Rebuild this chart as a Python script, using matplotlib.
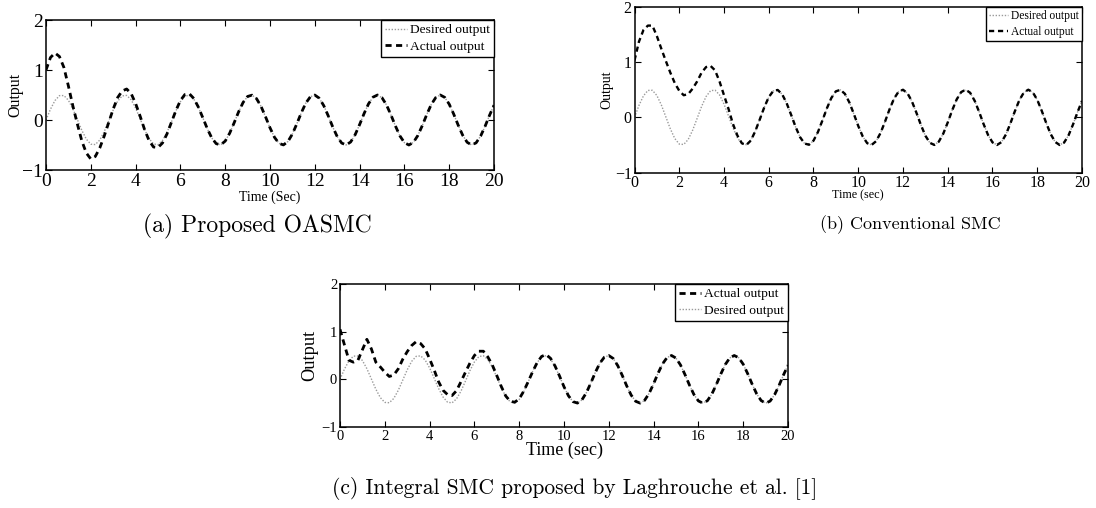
import matplotlib
matplotlib.use('Agg')
import matplotlib.pyplot as plt
import numpy as np

# sample times (s), one reading every 0.2 s
time = np.linspace(0, 20, 101)

# reference signal, same in all three panels
desired = [0.000, 0.216, 0.389, 0.487, 0.489, 0.395, 0.224, 0.009, -0.207, -0.383,
           -0.484, -0.491, -0.401, -0.232, -0.018, 0.199, 0.377, 0.482, 0.492, 0.406,
           0.240, 0.028, -0.190, -0.371, -0.479, -0.494, -0.411, -0.248, -0.037, 0.182,
           0.365, 0.477, 0.495, 0.417, 0.256, 0.046, -0.173, -0.359, -0.474, -0.496,
           -0.422, -0.264, -0.055, 0.165, 0.352, 0.471, 0.497, 0.427, 0.272, 0.065,
           -0.156, -0.346, -0.468, -0.498, -0.431, -0.280, -0.074, 0.147, 0.339, 0.464,
           0.499, 0.436, 0.287, 0.083, -0.138, -0.332, -0.461, -0.499, -0.440, -0.295,
           -0.092, 0.129, 0.325, 0.457, 0.500, 0.445, 0.302, 0.101, -0.120, -0.318,
           -0.453, -0.500, -0.449, -0.310, -0.110, 0.111, 0.311, 0.449, 0.500, 0.453,
           0.317, 0.119, -0.102, -0.303, -0.445, -0.500, -0.457, -0.324, -0.128, 0.093,
           0.296]

# actual outputs: transient part, afterwards they sit on the reference
actual_oasmc = [1.00, 1.25, 1.34, 1.27, 1.05, 0.68, 0.28, -0.08, -0.42, -0.66,
                -0.78, -0.73, -0.56, -0.32, -0.05, 0.22, 0.45, 0.58, 0.62, 0.53,
                0.33, 0.08, -0.19, -0.41, -0.54, -0.55, -0.46, -0.28, -0.045, 0.19,
                0.39, 0.51, 0.525, 0.43, 0.26] + desired[35:]

actual_smc = [1.03, 1.37, 1.58, 1.66, 1.66, 1.47, 1.24, 1.02, 0.81, 0.62,
              0.48, 0.40, 0.42, 0.52, 0.65, 0.81, 0.91, 0.93, 0.85, 0.65,
              0.40, 0.155, -0.12, -0.33, -0.47, -0.50, -0.42] + desired[27:]

actual_ismc = [1.05, 0.72, 0.40, 0.36, 0.40, 0.62, 0.84, 0.64, 0.36, 0.26,
               0.15, 0.06, 0.09, 0.22, 0.42, 0.58, 0.71, 0.79, 0.75, 0.64,
               0.43, 0.20, -0.05, -0.23, -0.32, -0.34, -0.24, -0.05, 0.15, 0.34,
               0.50, 0.59, 0.59, 0.47, 0.30, 0.08, -0.15, -0.35, -0.46, -0.48,
               -0.41, -0.25, -0.05, 0.16, 0.35, 0.48, 0.52, 0.44, 0.28, 0.07] + desired[50:]

x_ticks = list(range(0, 21, 2))
y_ticks = [-1, 0, 1, 2]
y_tick_labels = ['\u22121', '0', '1', '2']

SERIF = 'Liberation Serif'
CAPTION_FONT = 'cmr10'
W, H = 1096.0, 508.0


def px_rect(left, right, top, bottom):
    return [left / W, 1 - bottom / H, (right - left) / W, (bottom - top) / H]


def draw_panel(fig, rect, actual, xlabel, desired_first, tick_fs, ylab_fs, xlab_fs,
               leg_fs, xlab_y, ylab_x, lw_act):
    ax = fig.add_axes(rect)
    l_des, = ax.plot(time, desired, color='#9a9a9a', lw=1.0, ls=(0, (1, 1.2)),
                     label='Desired output')
    l_act, = ax.plot(time, actual, color='black', lw=lw_act, ls=(0, (2.2, 1.6)),
                     label='Actual output')
    ax.set_xlim(0, 20)
    ax.set_ylim(-1, 2)
    ax.set_xticks(x_ticks)
    ax.set_xticklabels([str(v) for v in x_ticks], fontfamily=SERIF, fontsize=tick_fs)
    ax.set_yticks(y_ticks)
    ax.set_yticklabels(y_tick_labels, fontfamily=SERIF, fontsize=tick_fs)
    ax.tick_params(direction='in', top=True, right=True, length=4, width=0.8, pad=2)
    for s in ax.spines.values():
        s.set_linewidth(1.1)
    ax.set_xlabel(xlabel, fontfamily=SERIF, fontsize=xlab_fs, va='top')
    ax.xaxis.set_label_coords(0.5, xlab_y)
    ax.set_ylabel('Output', fontfamily=SERIF, fontsize=ylab_fs)
    ax.yaxis.set_label_coords(ylab_x, 0.5)
    handles = [l_des, l_act] if desired_first else [l_act, l_des]
    leg = ax.legend(handles=handles, loc='upper right', borderaxespad=0,
                    fancybox=False, edgecolor='black', framealpha=1,
                    prop={'family': SERIF, 'size': leg_fs}, handlelength=1.6,
                    handletextpad=0.25, borderpad=0.3, labelspacing=0.3)
    leg.get_frame().set_linewidth(1.0)
    return ax


fig = plt.figure(figsize=(10.96, 5.08), dpi=100)

draw_panel(fig, px_rect(46, 494, 20, 170), actual_oasmc, 'Time (Sec)', True,
           14, 11.5, 10, 9.7, -0.135, -0.051, 2.0)
fig.text(257 / W, 1 - 226 / H, '(a) Proposed OASMC', family=CAPTION_FONT,
         fontsize=17, ha='center', va='center')

draw_panel(fig, px_rect(634.5, 1082, 6.8, 172.6), actual_smc, 'Time (sec)', True,
           11.5, 10, 8.7, 8.3, -0.103, -0.048, 1.7)
fig.text(910 / W, 1 - 225 / H, '(b) Conventional SMC', family=CAPTION_FONT,
         fontsize=13, ha='center', va='center')

draw_panel(fig, px_rect(340, 788, 284, 427), actual_ismc, 'Time (sec)', False,
           10.5, 13.2, 13, 9.7, -0.105, -0.049, 2.0)
fig.text(575 / W, 1 - 489 / H, '(c) Integral SMC proposed by Laghrouche et al. [1]',
         family=CAPTION_FONT, fontsize=15.5, ha='center', va='center')

fig.savefig('out.png', dpi=100)
